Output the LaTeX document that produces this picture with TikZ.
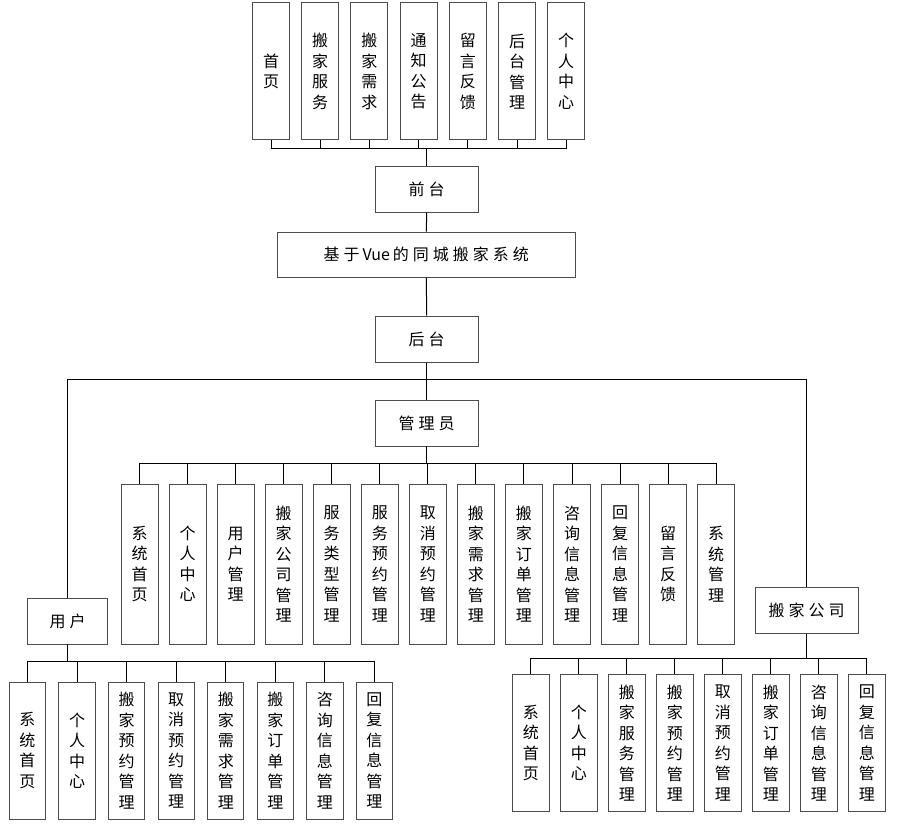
\documentclass[tikz,border=0pt]{standalone}
\usepackage{fontspec}
\setmainfont{Noto Sans CJK SC}
\tikzset{
	hbox/.style={draw=black!70, line width=1pt, inner sep=0pt, minimum width=103pt, minimum height=46pt, font=\fontsize{16}{20}\selectfont\addfontfeature{LetterSpace=25}},
	vbox/.style={draw=black!70, line width=1pt, inner sep=0pt, minimum width=37pt, align=center, font=\fontsize{16}{20.5}\selectfont},
	link/.style={line width=1pt}
}
\begin{document}
\begin{tikzpicture}[x=1pt,y=-1pt]
	\useasboundingbox (0,0) rectangle (902,826);
	\foreach \t [count=\i] in {首\\页, 搬\\家\\服\\务, 搬\\家\\需\\求, 通\\知\\公\\告, 留\\言\\反\\馈, 后\\台\\管\\理, 个\\人\\中\\心}
		\node[vbox, minimum height=137pt] (f\i) at ({271+49.2*(\i-1)},71.5) {\t};
	\node[hbox] (qt) at (426.7,189.5) {前台};
	\node[hbox, minimum width=298pt, minimum height=45pt] (sys) at (426.3,254.7) {基于{\addfontfeature{LetterSpace=0}\hspace{3pt}Vue\hspace{3pt}}的同城搬家系统};
	\node[hbox] (ht) at (426.7,339) {后台};
	\node[hbox] (adm) at (426.7,423) {管理员};
	\node[hbox, minimum width=80pt] (usr) at (67.5,621) {用户};
	\node[hbox] (co) at (806.7,610.5) {搬家公司};
	\foreach \t [count=\i] in {系\\统\\首\\页, 个\\人\\中\\心, 用\\户\\管\\理, 搬\\家\\公\\司\\管\\理, 服\\务\\类\\型\\管\\理, 服\\务\\预\\约\\管\\理, 取\\消\\预\\约\\管\\理, 搬\\家\\需\\求\\管\\理, 搬\\家\\订\\单\\管\\理, 咨\\询\\信\\息\\管\\理, 回\\复\\信\\息\\管\\理, 留\\言\\反\\馈, 系\\统\\管\\理}
		\node[vbox, minimum height=160pt] (a\i) at ({139.5+48.06*(\i-1)},564) {\t};
	\foreach \t [count=\i] in {系\\统\\首\\页, 个\\人\\中\\心, 搬\\家\\预\\约\\管\\理, 取\\消\\预\\约\\管\\理, 搬\\家\\需\\求\\管\\理, 搬\\家\\订\\单\\管\\理, 咨\\询\\信\\息\\管\\理, 回\\复\\信\\息\\管\\理}
		\node[vbox, minimum width=36.4pt, minimum height=136.7pt] (u\i) at ({27.5+49.57*(\i-1)},750.7) {\t};
	\foreach \t [count=\i] in {系\\统\\首\\页, 个\\人\\中\\心, 搬\\家\\服\\务\\管\\理, 搬\\家\\预\\约\\管\\理, 取\\消\\预\\约\\管\\理, 搬\\家\\订\\单\\管\\理, 咨\\询\\信\\息\\管\\理, 回\\复\\信\\息\\管\\理}
		\node[vbox, minimum height=136.6pt] (c\i) at ({530.8+48*(\i-1)},743) {\t};
	\foreach \i in {1,...,7}
		\draw[link] (qt.north) -- ++(0,-17.7) -| (f\i.south);
	\draw[link] (qt.south) -- (sys.north);
	\draw[link] (sys.south) -- (ht.north);
	\draw[link] (ht.south) -- (adm.north);
	\draw[link] (ht.south) -- ++(0,17.3) -| (usr.north);
	\draw[link] (ht.south) -- ++(0,17.3) -| (co.north);
	\foreach \i in {1,...,13}
		\draw[link] (adm.south) -- ++(0,17) -| (a\i.north);
	\foreach \i in {1,...,8}
		\draw[link] (usr.south) -- ++(0,16.7) -| (u\i.north);
	\foreach \i in {1,...,8}
		\draw[link] (co.south) -- ++(0,24.4) -| (c\i.north);
\end{tikzpicture}
\end{document}
